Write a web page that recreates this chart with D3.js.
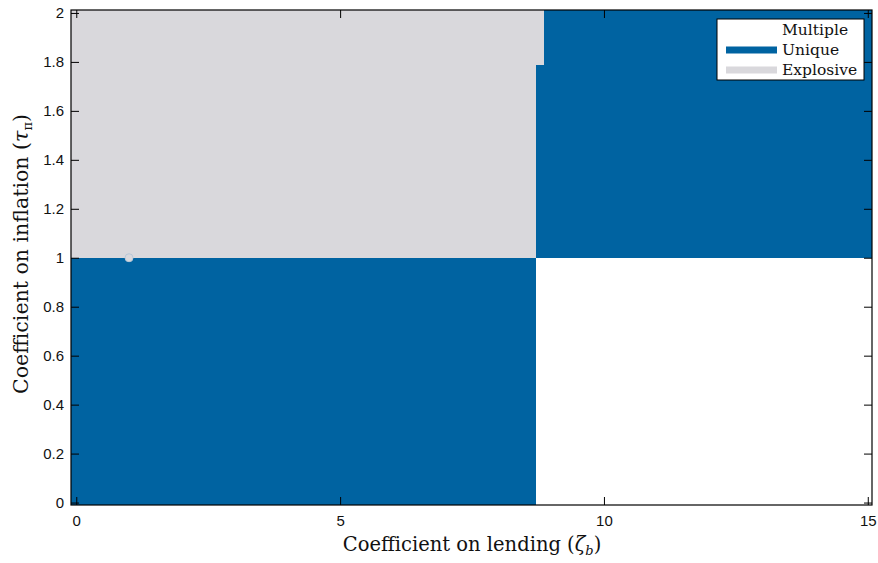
<!DOCTYPE html>
<html><head><meta charset="utf-8">
<script src="https://cdn.jsdelivr.net/npm/d3@7"></script>
<style>body{margin:0;background:#fff;}svg{display:block;}</style>
</head><body>
<script>
// ---- data ----
const regionType = ["Unique", "Explosive", "Explosive", "Unique", "Unique", "Multiple"];
const zetaFrom   = [-0.1, -0.1, 8.71, 8.71, 8.86, 8.71];
const zetaTo     = [8.71, 8.71, 8.86, 15.08, 15.08, 15.08];
const tauFrom    = [-0.01, 1, 1.787, 1, 1.787, -0.01];
const tauTo      = [1, 2.012, 2.012, 1.787, 2.012, 1];
const legendNames = ["Multiple", "Unique", "Explosive"];
const xTicks = [0, 5, 10, 15];
const yTicks = [0, 0.2, 0.4, 0.6, 0.8, 1, 1.2, 1.4, 1.6, 1.8, 2];
const baseline = {zeta: 1, tau: 1};

const colors = {Multiple: "#ffffff", Unique: "#0063a1", Explosive: "#d9d8dc"};

const W = 878, H = 563;
const m = {left: 71, right: 6, top: 10, bottom: 58};
const svg = d3.select("body").append("svg").attr("width", W).attr("height", H);
const x = d3.scaleLinear().domain([-0.1, 15.08]).range([m.left, W - m.right]);
const y = d3.scaleLinear().domain([-0.01, 2.012]).range([H - m.bottom, m.top]);

const regions = regionType.map((t, i) => ({t, x0: zetaFrom[i], x1: zetaTo[i], y0: tauFrom[i], y1: tauTo[i]}));
svg.append("g").selectAll("rect").data(regions).join("rect")
  .attr("x", d => x(d.x0)).attr("width", d => x(d.x1) - x(d.x0))
  .attr("y", d => y(d.y1)).attr("height", d => y(d.y0) - y(d.y1))
  .attr("fill", d => colors[d.t]).attr("shape-rendering", "crispEdges");

svg.append("circle").attr("cx", x(baseline.zeta)).attr("cy", y(baseline.tau)).attr("r", 4)
  .attr("fill", "#d9d8dc").attr("stroke", "#b8c8d8").attr("stroke-width", 1);

const tickFont = g => g.selectAll("text").attr("font-family", "Liberation Sans, Arial, sans-serif").attr("font-size", 15).attr("fill", "#111");
const fmt = d3.format("~g");
const gx = svg.append("g").attr("transform", `translate(0,${H - m.bottom})`)
  .call(d3.axisBottom(x).tickValues(xTicks).tickFormat(fmt).tickSizeInner(-8).tickSizeOuter(0).tickPadding(10));
gx.call(tickFont);
const gy = svg.append("g").attr("transform", `translate(${m.left},0)`)
  .call(d3.axisLeft(y).tickValues(yTicks).tickFormat(fmt).tickSizeInner(-8).tickSizeOuter(0).tickPadding(7));
gy.call(tickFont);
svg.append("g").attr("transform", `translate(0,${m.top})`)
  .call(d3.axisTop(x).tickValues(xTicks).tickFormat("").tickSizeInner(-8).tickSizeOuter(0));
svg.append("g").attr("transform", `translate(${W - m.right},0)`)
  .call(d3.axisRight(y).tickValues(yTicks).tickFormat("").tickSizeInner(-8).tickSizeOuter(0));
svg.selectAll(".domain").remove();
svg.selectAll(".tick line").attr("stroke", "#000");
svg.append("rect").attr("x", m.left).attr("y", m.top).attr("width", W - m.right - m.left)
  .attr("height", H - m.bottom - m.top).attr("fill", "none").attr("stroke", "#000").attr("stroke-width", 1.2);

const serif = "DejaVu Serif, serif";
const xl = svg.append("text").attr("x", 472).attr("y", 551)
  .attr("text-anchor", "middle").attr("font-family", serif).attr("font-size", 19.5).attr("fill", "#111");
xl.append("tspan").text("Coefficient on lending (");
xl.append("tspan").attr("font-style", "italic").text("ζ");
xl.append("tspan").attr("font-style", "italic").attr("font-size", 13).attr("dy", 4).text("b");
xl.append("tspan").attr("dy", -4).text(")");

const yl = svg.append("text").attr("transform", `translate(28,254) rotate(-90)`)
  .attr("text-anchor", "middle").attr("font-family", serif).attr("font-size", 20.5).attr("fill", "#111");
yl.append("tspan").text("Coefficient on inflation (");
yl.append("tspan").attr("font-style", "italic").text("τ");
yl.append("tspan").attr("font-size", 13).attr("dy", 4).text("π");
yl.append("tspan").attr("dy", -4).text(")");

// legend
const lg = svg.append("g");
lg.append("rect").attr("x", 717).attr("y", 19).attr("width", 147).attr("height", 61)
  .attr("fill", "#fff").attr("stroke", "#000").attr("stroke-width", 1);
legendNames.forEach((n, i) => {
  const cy = 30 + i * 20;
  lg.append("line").attr("x1", 726).attr("x2", 777).attr("y1", cy).attr("y2", cy)
    .attr("stroke", colors[n]).attr("stroke-width", 7);
  lg.append("text").attr("x", 782).attr("y", cy + 5).attr("font-family", serif)
    .attr("font-size", 15.5).attr("fill", "#111").text(n);
});
</script>
</body></html>
